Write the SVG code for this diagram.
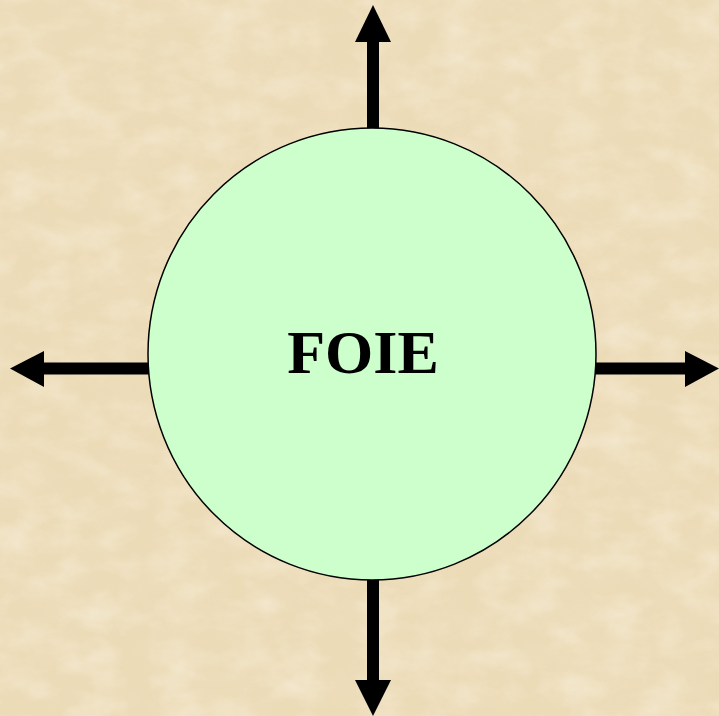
<svg xmlns="http://www.w3.org/2000/svg" width="719" height="716" viewBox="0 0 719 716">
  <defs>
    <filter id="parchDark" x="0" y="0" width="100%" height="100%">
      <feTurbulence type="fractalNoise" baseFrequency="0.02 0.03" numOctaves="4" seed="7" result="n"/>
      <feColorMatrix in="n" type="matrix" values="0 0 0 0 0.86  0 0 0 0 0.75  0 0 0 0 0.54  0 0 0 -2 1.2"/>
    </filter>
    <filter id="parchLight" x="0" y="0" width="100%" height="100%">
      <feTurbulence type="fractalNoise" baseFrequency="0.025 0.04" numOctaves="4" seed="23" result="n"/>
      <feColorMatrix in="n" type="matrix" values="0 0 0 0 0.96  0 0 0 0 0.91  0 0 0 0 0.79  0 0 0 2 -0.8"/>
    </filter>
    <style>
      .shaft { stroke: #000; stroke-width: 12; fill: none; }
      .head { fill: #000; }
      .lbl { font-family: "Liberation Serif", "Times New Roman", serif; font-weight: bold; font-size: 62px; fill: #000; }
    </style>
  </defs>
  <rect width="719" height="716" fill="#ECDBB7"/>
  <rect width="719" height="716" filter="url(#parchDark)" opacity="0.45"/>
  <rect width="719" height="716" filter="url(#parchLight)" opacity="0.4"/>
  <g id="connectors">
    <line class="shaft" x1="373" y1="130" x2="373" y2="40"/>
    <polygon class="head" points="373,5 355,42 391,42"/>
    <line class="shaft" x1="373" y1="578" x2="373" y2="682"/>
    <polygon class="head" points="373,716 355,680 391,680"/>
    <line class="shaft" x1="150" y1="368.5" x2="42" y2="368.5"/>
    <polygon class="head" points="10,368.5 44,351 44,387"/>
    <line class="shaft" x1="594" y1="368.5" x2="687" y2="368.5"/>
    <polygon class="head" points="719,368.5 685,351 685,387"/>
  </g>
  <g id="foie">
    <ellipse cx="372" cy="354" rx="224" ry="226" fill="#CCFFCC" stroke="#000" stroke-width="1.5"/>
    <text class="lbl" x="363" y="373" text-anchor="middle">FOIE</text>
  </g>
</svg>
